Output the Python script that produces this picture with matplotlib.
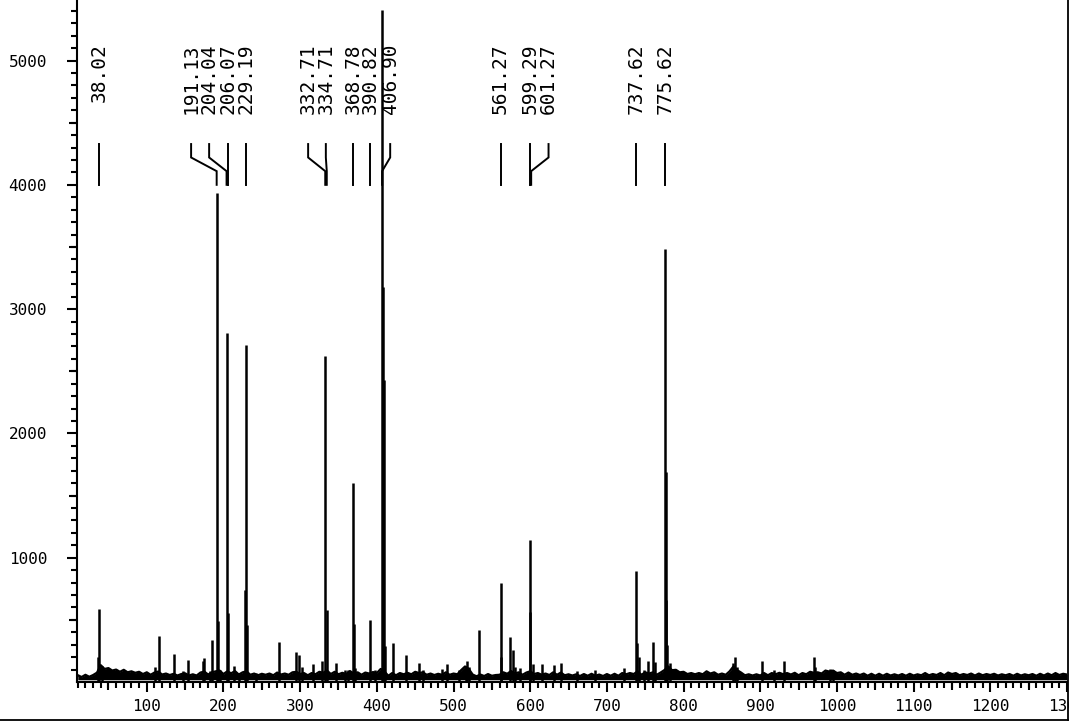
import matplotlib
matplotlib.use("Agg")
import matplotlib.pyplot as plt
from matplotlib.lines import Line2D
from matplotlib.patches import Rectangle

# ---- data ----
peak_mz = [37.0, 38.02, 41.0, 111.3, 115.7, 135.2, 147.8, 153.5, 173.5, 174.8, 182.6, 185.6,
           191.13, 192.5, 195.6, 204.04, 206.07, 213.9, 220.0, 228.2, 229.19, 230.2, 242.6,
           272.6, 294.4, 298.3, 302.2, 316.5, 328.3, 332.71, 334.71, 346.5, 358.7, 363.0,
           368.78, 369.8, 372.0, 390.82, 397.8, 406.90, 407.9, 408.9, 410.5, 421.7, 438.2,
           455.2, 460.8, 484.8, 491.3, 507.0, 516.0, 518.2, 520.0, 533.0, 561.27, 562.3,
           573.5, 577.4, 580.4, 587.0, 599.29, 600.3, 603.5, 615.6, 630.4, 640.0, 661.0,
           684.8, 721.7, 737.62, 738.8, 741.3, 747.8, 753.4, 760.4, 763.0, 775.62, 776.6,
           777.6, 778.8, 782.0, 865.0, 867.4, 870.0, 902.6, 917.3, 930.4, 970.4, 972.0,
           991.3, 995.0]
peak_int = [204, 588, 130, 123, 370, 225, 88, 177, 170, 190, 88, 338,
            3937, 490, 97, 2810, 558, 129, 72, 740, 2713, 460, 72,
            322, 241, 217, 123, 145, 169, 2625, 580, 153, 97, 97,
            1602, 467, 113, 499, 97, 5406, 3180, 2430, 290, 314, 217,
            153, 97, 105, 145, 97, 130, 169, 120, 419, 800, 204,
            360, 258, 123, 113, 1143, 566, 145, 145, 137, 153, 91,
            97, 113, 894, 314, 204, 97, 172, 322, 163, 3486, 1690,
            660, 300, 150, 150, 199, 120, 169, 97, 169, 204, 120,
            105, 100]

base_mz = list(range(10, 1301, 5))
base_int = [
    55, 40, 58, 42, 56, 75, 135, 105, 112, 92,
    100, 82, 98, 78, 86, 74, 82, 64, 78, 58,
    76, 84, 60, 68, 56, 66, 52, 64, 70, 52,
    62, 52, 76, 84, 60, 78, 86, 92, 64, 86,
    70, 88, 60, 78, 86, 58, 68, 54, 66, 58,
    68, 54, 76, 60, 68, 58, 78, 82, 64, 72,
    54, 72, 62, 82, 74, 92, 64, 82, 62, 74,
    64, 88, 68, 78, 58, 76, 68, 80, 72, 105,
    84, 50, 72, 54, 72, 62, 74, 62, 82, 72,
    78, 58, 68, 56, 66, 58, 78, 58, 68, 62,
    96, 125, 104, 60, 46, 60, 48, 64, 50, 56,
    58, 78, 66, 88, 68, 78, 58, 76, 86, 64,
    72, 58, 68, 56, 78, 58, 76, 54, 62, 52,
    62, 48, 64, 50, 66, 50, 60, 48, 64, 50,
    66, 50, 72, 62, 72, 64, 86, 58, 78, 68,
    78, 58, 76, 96, 125, 95, 98, 78, 82, 64,
    72, 62, 72, 62, 86, 68, 78, 58, 68, 58,
    86, 125, 95, 76, 54, 62, 52, 62, 52, 72,
    54, 72, 62, 74, 62, 72, 60, 74, 54, 72,
    62, 82, 74, 78, 68, 92, 84, 92, 72, 78,
    58, 76, 58, 68, 56, 68, 50, 66, 50, 66,
    50, 66, 52, 62, 52, 64, 50, 66, 52, 62,
    54, 72, 54, 64, 56, 72, 54, 76, 64, 72,
    54, 64, 56, 68, 52, 68, 54, 64, 56, 66,
    52, 62, 54, 64, 50, 66, 52, 62, 54, 64,
    50, 66, 52, 68, 54, 72, 56, 66, 60,
]

label_mz = [38.02, 191.13, 204.04, 206.07, 229.19, 332.71, 334.71, 368.78, 390.82,
            406.90, 561.27, 599.29, 601.27, 737.62, 775.62]
label_x = [38.02, 157.8, 181.3, 206.07, 229.19, 310.4, 333.5, 368.78, 390.82,
           417.4, 561.27, 599.29, 623.9, 737.62, 775.62]

x_ticks = [100, 200, 300, 400, 500, 600, 700, 800, 900, 1000, 1100, 1200, 1300]
y_ticks = [1000, 2000, 3000, 4000, 5000]

# ---- figure ----
W, H = 1072, 722
fig = plt.figure(figsize=(W / 100, H / 100), dpi=100)
ax = fig.add_axes([77 / W, 40 / H, (1067 - 77) / W, 682 / H])
ax.set_xlim(9, 1300)
ax.set_ylim(0, 5487)

mono = "DejaVu Sans Mono"

ax.fill_between(base_mz, 18, base_int, color="black", lw=0)
ax.plot(base_mz, base_int, color="black", lw=1.6)
ax.vlines(peak_mz, 0, peak_int, color="black", lw=1.8)

# peak labels with leader lines
for mz, lx in zip(label_mz, label_x):
    ax.plot([lx, lx, mz, mz], [4328, 4220, 4110, 4000], color="black", lw=1.4,
            solid_joinstyle="miter")
    ax.text(lx, 5140, f"{mz:.2f}", rotation=90, ha="center", va="top",
            fontfamily=mono, fontsize=14, color="black")

for s in ["top", "right"]:
    ax.spines[s].set_visible(False)
for s in ["left", "bottom"]:
    ax.spines[s].set_linewidth(1.5)

ax.set_xticks(x_ticks)
ax.set_xticklabels([str(v) for v in x_ticks])
ax.set_xticks(range(10, 1301, 10), minor=True)
ax.set_yticks(y_ticks)
ax.set_yticklabels([str(v) for v in y_ticks])
ax.set_yticks(range(100, 5487, 100), minor=True)

ax.tick_params(axis="both", which="major", direction="out", length=7.5, width=1.5,
               labelsize=11.5)
ax.tick_params(axis="both", which="minor", direction="out", length=4.2, width=1.5)
ax.tick_params(axis="x", which="major", pad=4.5)
ax.tick_params(axis="y", which="major", pad=14)
for lab in ax.get_xticklabels() + ax.get_yticklabels():
    lab.set_fontfamily(mono)

# medium ticks (every 50 / 500)
secx = ax.secondary_xaxis("bottom")
secx.set_xticks(range(50, 1300, 100))
secx.tick_params(direction="out", length=5.8, width=1.5, labelbottom=False)
secx.spines["bottom"].set_visible(False)
secy = ax.secondary_yaxis("left")
secy.set_yticks(range(500, 5487, 1000))
secy.tick_params(direction="out", length=5.8, width=1.5, labelleft=False)
secy.spines["left"].set_visible(False)

# frame pieces and clipping of the right edge (the reference cuts "1300" there)
fig.add_artist(Rectangle((1068.5 / W, 0), 1, 1, transform=fig.transFigure,
                         facecolor="white", edgecolor="none", zorder=10))
fig.add_artist(Line2D([1067.5 / W, 1067.5 / W], [2 / H, 1], transform=fig.transFigure,
                      color="black", lw=1.3, zorder=11))
fig.add_artist(Line2D([0, 1067.5 / W], [2 / H, 2 / H], transform=fig.transFigure,
                      color="black", lw=1.3, zorder=11))

fig.savefig("out.png", dpi=100)
